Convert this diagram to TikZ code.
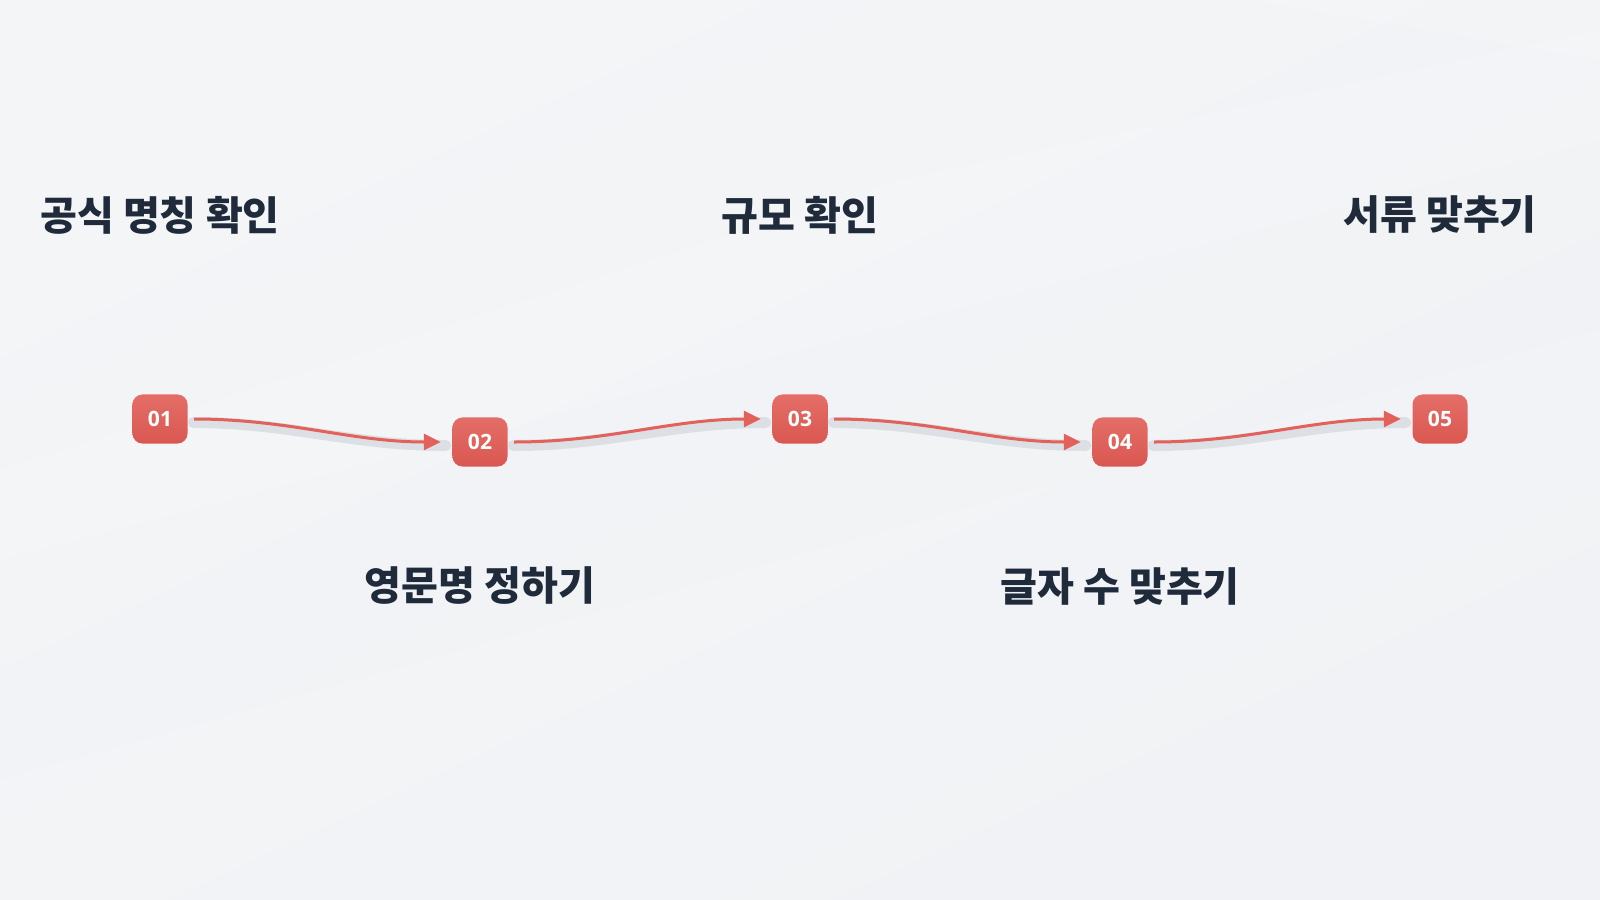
\documentclass[tikz,border=0pt]{standalone}
\usepackage{fontspec}
\setmainfont{Noto Sans CJK KR}
\newfontfamily\numfont{Open Sans}
\usetikzlibrary{arrows.meta}
\definecolor{stepred}{HTML}{E2615A}
\definecolor{stepdark}{HTML}{DA5751}
\definecolor{labelnavy}{HTML}{1F2A3B}
\definecolor{bgtop}{HTML}{F4F5F7}
\definecolor{bgmid}{HTML}{E9ECEF}
\definecolor{bgbottom}{HTML}{EFF1F4}
\definecolor{trail}{HTML}{DCE0E5}

\begin{document}
\begin{tikzpicture}[x=0.01cm,y=-0.01cm,
	stepbox/.style={rounded corners=0.1cm,top color=stepred!92!white,bottom color=stepdark,
		minimum width=0.55cm,minimum height=0.49cm,inner sep=0pt,
		text=white,font=\numfont\fontsize{6}{7}\selectfont\bfseries},
	steplabel/.style={text=labelnavy,font=\fontsize{11.4}{13}\selectfont\bfseries},
	flow/.style={draw=stepred,line width=0.03cm,shorten <=0.06cm,shorten >=0.11cm,
		-{Triangle[length=0.17cm,width=0.16cm]}},
	trailline/.style={draw=trail,line width=0.11cm,line cap=round,shorten <=0.05cm,shorten >=0.06cm}]
	% background
	\shade[top color=bgtop,middle color=bgmid,bottom color=bgbottom,shading angle=25] (0,0) rectangle (1600,900);
	\fill[white,opacity=0.12] (0,470) -- (900,180) -- (1600,30) -- (1600,140) -- (0,560) -- cycle;
	\fill[white,opacity=0.12] (0,900) -- (0,780) -- (1600,330) -- (1600,900) -- cycle;
	\fill[white,opacity=0.1] (1250,0) -- (1600,0) -- (1600,60) -- cycle;
	\useasboundingbox (0,0) rectangle (1600,900);

	% steps
	\foreach \i/\x/\y in {1/160/419,2/480/442,3/800/419,4/1120/442,5/1440/419}
		\node[stepbox] (s\i) at (\x,\y) {0\i};

	% labels
	\foreach \i/\x/\y/\txt in {1/160/215/공식 명칭 확인,2/480/586/영문명 정하기,3/800/215/규모 확인,
		4/1120/586/글자 수 맞추기,5/1440/215/서류 맞추기}
		\node[steplabel] (t\i) at (\x,\y) {\txt};

	% connectors
	\foreach \a/\b in {1/2,2/3,3/4,4/5}{
		\path[trailline] ([yshift=-0.035cm]s\a.east) .. controls +(100,0) and +(-100,0) .. ([yshift=-0.035cm]s\b.west);
		\path[flow] (s\a.east) .. controls +(100,0) and +(-100,0) .. (s\b.west);
	}
\end{tikzpicture}
\end{document}
